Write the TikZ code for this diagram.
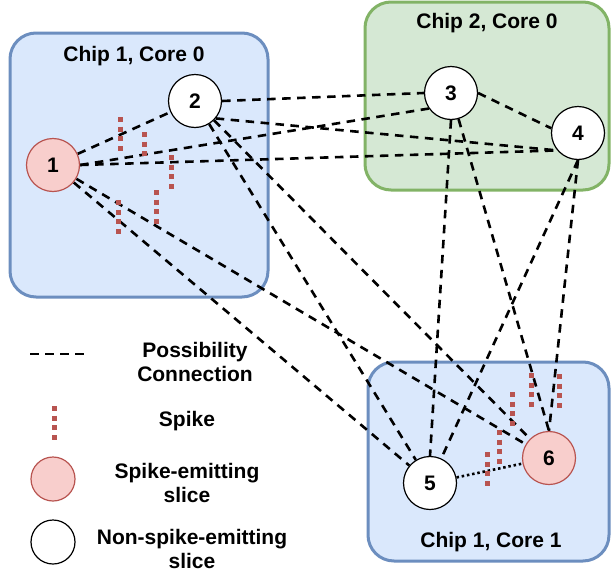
\documentclass[tikz,border=0pt]{standalone}
\usepackage{fontspec}
\setmainfont{Liberation Sans}
\pgfdeclarelayer{bg}
\pgfdeclarelayer{edges}
\pgfsetlayers{bg,edges,main}
\definecolor{bluefill}{HTML}{DAE8FC}
\definecolor{bluedraw}{HTML}{6C8EBF}
\definecolor{greenfill}{HTML}{D5E8D4}
\definecolor{greendraw}{HTML}{82B366}
\definecolor{redfill}{HTML}{F8CECC}
\definecolor{reddraw}{HTML}{B85450}
\tikzset{
  txt/.style={font=\fontsize{21}{24}\selectfont\bfseries, inner sep=0pt, align=center},
  corebox/.style={line width=3pt, rounded corners=26pt},
  slice/.style={circle, draw=black, line width=1.2pt, fill=white, minimum size=53pt, inner sep=0pt, font=\fontsize{21}{24}\selectfont\bfseries},
  redslice/.style={slice, draw=reddraw, fill=redfill},
  legslice/.style={circle, draw=black, line width=1.2pt, fill=white, minimum size=44pt, inner sep=0pt},
  conn/.style={draw=black, line width=2.6pt, dash pattern=on 8.5pt off 6.5pt},
  dotconn/.style={draw=black, line width=2.6pt, dash pattern=on 2.5pt off 2.8pt},
  spike/.style={draw=reddraw, line width=5pt, dash pattern=on 5pt off 4.7pt}
}
\begin{document}
\begin{tikzpicture}[x=1pt,y=-1pt]
\useasboundingbox (0,0) rectangle (611,576);
% boxes
\begin{pgfonlayer}{bg}
\draw[corebox, draw=bluedraw, fill=bluefill] (10,33) rectangle (268,297);
\draw[corebox, draw=greendraw, fill=greenfill] (365,2) rectangle (609,190);
\draw[corebox, draw=bluedraw, fill=bluefill] (368,362) rectangle (609,561);
\end{pgfonlayer}
\node[txt] (t1) at (134,56) {Chip 1, Core 0};
\node[txt] (t2) at (487,23) {Chip 2, Core 0};
\node[txt] (t3) at (491,542) {Chip 1, Core 1};
% slices
\node[redslice] (n1) at (53,165) {1};
\node[slice] (n2) at (195,101) {2};
\node[slice] (n3) at (451,93) {3};
\node[slice] (n4) at (578,133) {4};
\node[slice] (n5) at (430,483) {5};
\node[redslice] (n6) at (549,458) {6};
% connections
\begin{pgfonlayer}{edges}
\draw[conn] (n1) -- (n2);
\draw[conn] (n1.east) -- (n3.215);
\draw[conn] (n1.east) -- (n4.220);
\draw[conn] (n1) -- (n5);
\draw[conn] (n1) -- (n6);
\draw[conn] (n2.east) -- (n3.west);
\draw[conn] (n2.-40) -- (n4.220);
\draw[conn] (n2) -- (n5);
\draw[conn] (n2) -- (n6);
\draw[conn] (n3.east) -- (n4.170);
\draw[conn] (n3.south) -- (n5.north);
\draw[conn] (n3) -- (n6.north);
\draw[conn] (n4.south) -- (n5);
\draw[conn] (n4.south) -- (n6.north);
\draw[dotconn] (n5) -- (n6);
\end{pgfonlayer}
% spikes
\draw[spike] (120,117) -- (120,151);
\draw[spike] (144,132) -- (144,156);
\draw[spike] (171,155) -- (171,189);
\draw[spike] (156,190) -- (156,224);
\draw[spike] (118,200) -- (118,234);
\draw[spike] (487,452) -- (487,486);
\draw[spike] (499,430) -- (499,464);
\draw[spike] (512,392) -- (512,426);
\draw[spike] (531,373) -- (531,407);
\draw[spike] (559,374) -- (559,408);
% legend
\coordinate (la) at (30,354);
\coordinate (lb) at (88,354);
\draw[conn] (la) -- (lb);
\node[txt] (l1) at (195,362) {Possibility\\Connection};
\draw[spike] (54,406) -- (54,440);
\node[txt] (l2) at (187,421) {Spike};
\node[legslice, draw=reddraw, fill=redfill] (c1) at (53,479) {};
\node[txt] (l3) at (187,483) {Spike-emitting\\slice};
\node[legslice] (c2) at (53,542) {};
\node[txt] (l4) at (192,549) {Non-spike-emitting\\slice};
\end{tikzpicture}
\end{document}
